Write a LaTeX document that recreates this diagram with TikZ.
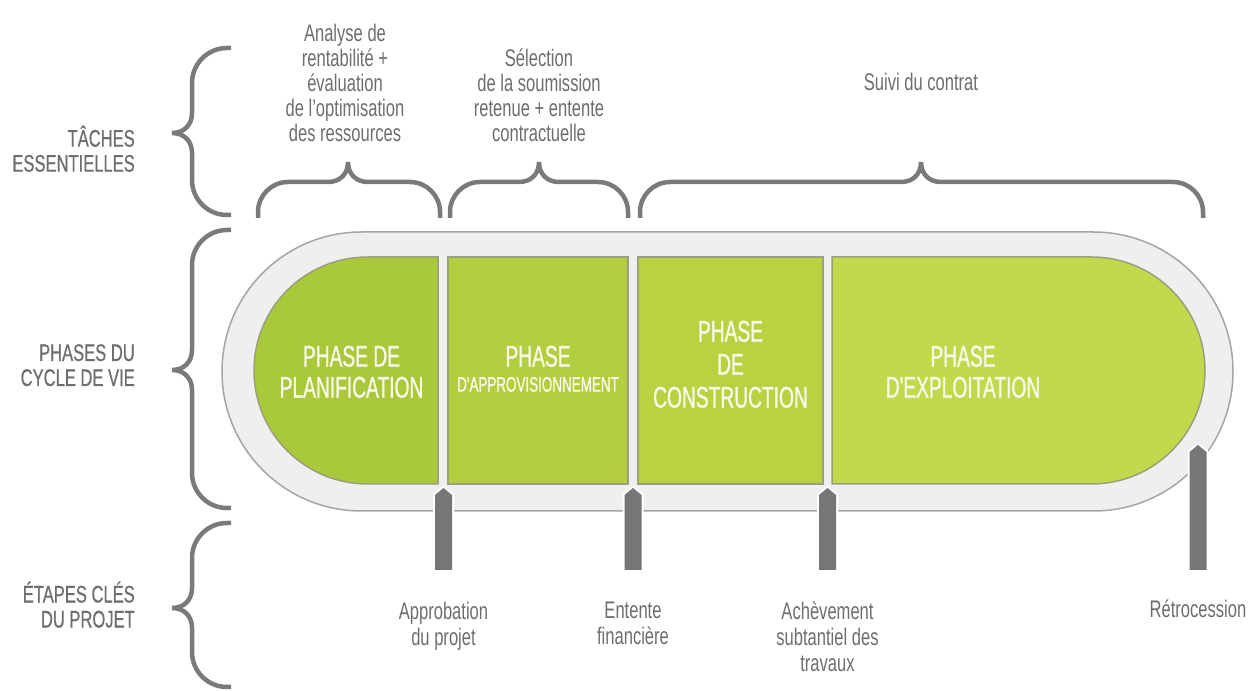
\documentclass[tikz,border=0pt]{standalone}
\usepackage{fontspec}
\setmainfont[FakeStretch=0.69]{Liberation Sans}
\newfontfamily\phasefont[FakeStretch=0.64, FakeBold=0.8]{Liberation Sans}
\newfontfamily\sidefont[FakeStretch=0.69, FakeBold=0.6]{Liberation Sans}

\definecolor{txtgray}{HTML}{6E6E6E}
\definecolor{bracegray}{HTML}{7A7A7A}
\definecolor{trackfill}{HTML}{EFEFEF}
\definecolor{trackline}{HTML}{A5A5A5}
\definecolor{segA}{HTML}{A9C83A}
\definecolor{segB}{HTML}{B3CE3E}
\definecolor{segC}{HTML}{BAD242}
\definecolor{segD}{HTML}{C3D84B}
\definecolor{segline}{HTML}{9AA07E}
\definecolor{markgray}{HTML}{767676}
\definecolor{phasetext}{HTML}{FAFAEC}

\tikzset{
  brace/.style={draw=bracegray, line width=4.5pt},
  track/.style={fill=trackfill, draw=trackline, line width=1.5pt},
  seg/.style={draw=segline, line width=1.5pt},
  grey label/.style={text=txtgray, align=center, inner sep=0pt, anchor=north,
    font=\fontsize{24}{25}\selectfont},
  side label/.style={text=txtgray, align=right, inner sep=0pt, anchor=north east,
    font=\sidefont\fontsize{24}{25}\selectfont},
  phase label/.style={text=phasetext, align=center, inner sep=0pt, anchor=north,
    font=\phasefont\fontsize{30}{31}\selectfont},
}

% vertical brace opening to the right: top y, tip y, bottom y
\newcommand\vbrace[3]{%
  \draw[brace] (231,#1) -- (227,#1) .. controls (207.7,#1) and (192,#1-15.7) .. (192,#1-35)
    -- (192,#2+20) .. controls (192,#2+8) and (184,#2) .. (172,#2)
    .. controls (184,#2) and (192,#2-8) .. (192,#2-20)
    -- (192,#3+35) .. controls (192,#3+15.7) and (207.7,#3) .. (227,#3) -- (231,#3);}

% horizontal brace opening downwards: left foot x, tip x, right foot x
\newcommand\hbrace[3]{%
  \draw[brace] (#1,473) -- (#1,479) .. controls (#1,495.5) and (#1+13.5,509) .. (#1+30,509)
    -- (#2-20,509) .. controls (#2-8,509) and (#2,517) .. (#2,529)
    .. controls (#2,517) and (#2+8,509) .. (#2+20,509)
    -- (#3-30,509) .. controls (#3-13.5,509) and (#3,495.5) .. (#3,479) -- (#3,473);}

\begin{document}
\begin{tikzpicture}[x=1pt, y=1pt]
\useasboundingbox (0,0) rectangle (1251,691);
\fill[white] (0,0) rectangle (1251,691);

% row braces on the left
\vbrace{643}{558}{476}
\vbrace{461}{321}{183}
\vbrace{168}{83}{4}

% task braces above the track
\hbrace{258}{348}{440}
\hbrace{450}{539}{628}
\hbrace{640}{921}{1203}

% outer track
\draw[track] (361.5,459) -- (1093.5,459)
  arc[start angle=90, end angle=-90, radius=139.5pt]
  -- (361.5,180) arc[start angle=270, end angle=90, radius=139.5pt] -- cycle;

% phase segments
\draw[seg, fill=segA] (438,434) -- (367.5,434)
  arc[start angle=90, end angle=270, radius=113.5pt] -- (438,207) -- cycle;
\draw[seg, fill=segB] (448,207) rectangle (628,434);
\draw[seg, fill=segC] (638,207) rectangle (823,434);
\draw[seg, fill=segD] (832,434) -- (1091.5,434)
  arc[start angle=90, end angle=-90, radius=113.5pt] -- (832,207) -- cycle;

% milestone posts
\foreach \cx/\tip [count=\i] in {443.5/203, 633/203, 827.5/203, 1198/246} {
  \coordinate (post\i) at (\cx,121);
  \draw[white, line width=4pt, line join=round]
    (\cx-8.5,121) -- (\cx-8.5,\tip-7) -- (\cx,\tip) -- (\cx+8.5,\tip-7) -- (\cx+8.5,121);
  \fill[markgray]
    (\cx-8.5,121) -- (\cx-8.5,\tip-7) -- (\cx,\tip) -- (\cx+8.5,\tip-7) -- (\cx+8.5,121) -- cycle;
}

% row titles
\node[side label] (rowtasks) at (135,565.5) {TÂCHES\\ESSENTIELLES};
\node[side label] (rowphases) at (135,347) {PHASES DU\\CYCLE DE VIE};
\node[side label] (rowsteps) at (135,109.5) {ÉTAPES CLÉS\\DU PROJET};

% tasks
\node[grey label] (taskA) at (345,667.5) {Analyse de\\rentabilité +\\évaluation\\de l'optimisation\\des ressources};
\node[grey label] (taskB) at (539,642.5) {Sélection\\de la soumission\\retenue + entente\\contractuelle};
\node[grey label] (taskC) at (921,618.5) {Suivi du contrat};

% phases
\node[phase label] (phA) at (351.5,345.5) {PHASE DE\\PLANIFICATION};
\node[phase label] (phB) at (538,345.5) {PHASE\\[-6pt]{\fontsize{21}{24}\selectfont D'APPROVISIONNEMENT}};
\node[phase label, font=\phasefont\fontsize{30}{33}\selectfont] (phC) at (730.5,370.5) {PHASE\\DE\\CONSTRUCTION};
\node[phase label] (phD) at (963,345.5) {PHASE\\D'EXPLOITATION};

% milestones
\node[grey label, font=\fontsize{24}{26}\selectfont] (msA) at (post1 |- 0,89) {Approbation\\du projet};
\node[grey label, font=\fontsize{24}{26}\selectfont] (msB) at (post2 |- 0,89) {Entente\\financière};
\node[grey label, font=\fontsize{24}{26}\selectfont] (msC) at (post3 |- 0,89) {Achèvement\\subtantiel des\\travaux};
\node[grey label, font=\fontsize{24}{26}\selectfont] (msD) at (post4 |- 0,91) {Rétrocession};
\end{tikzpicture}
\end{document}
